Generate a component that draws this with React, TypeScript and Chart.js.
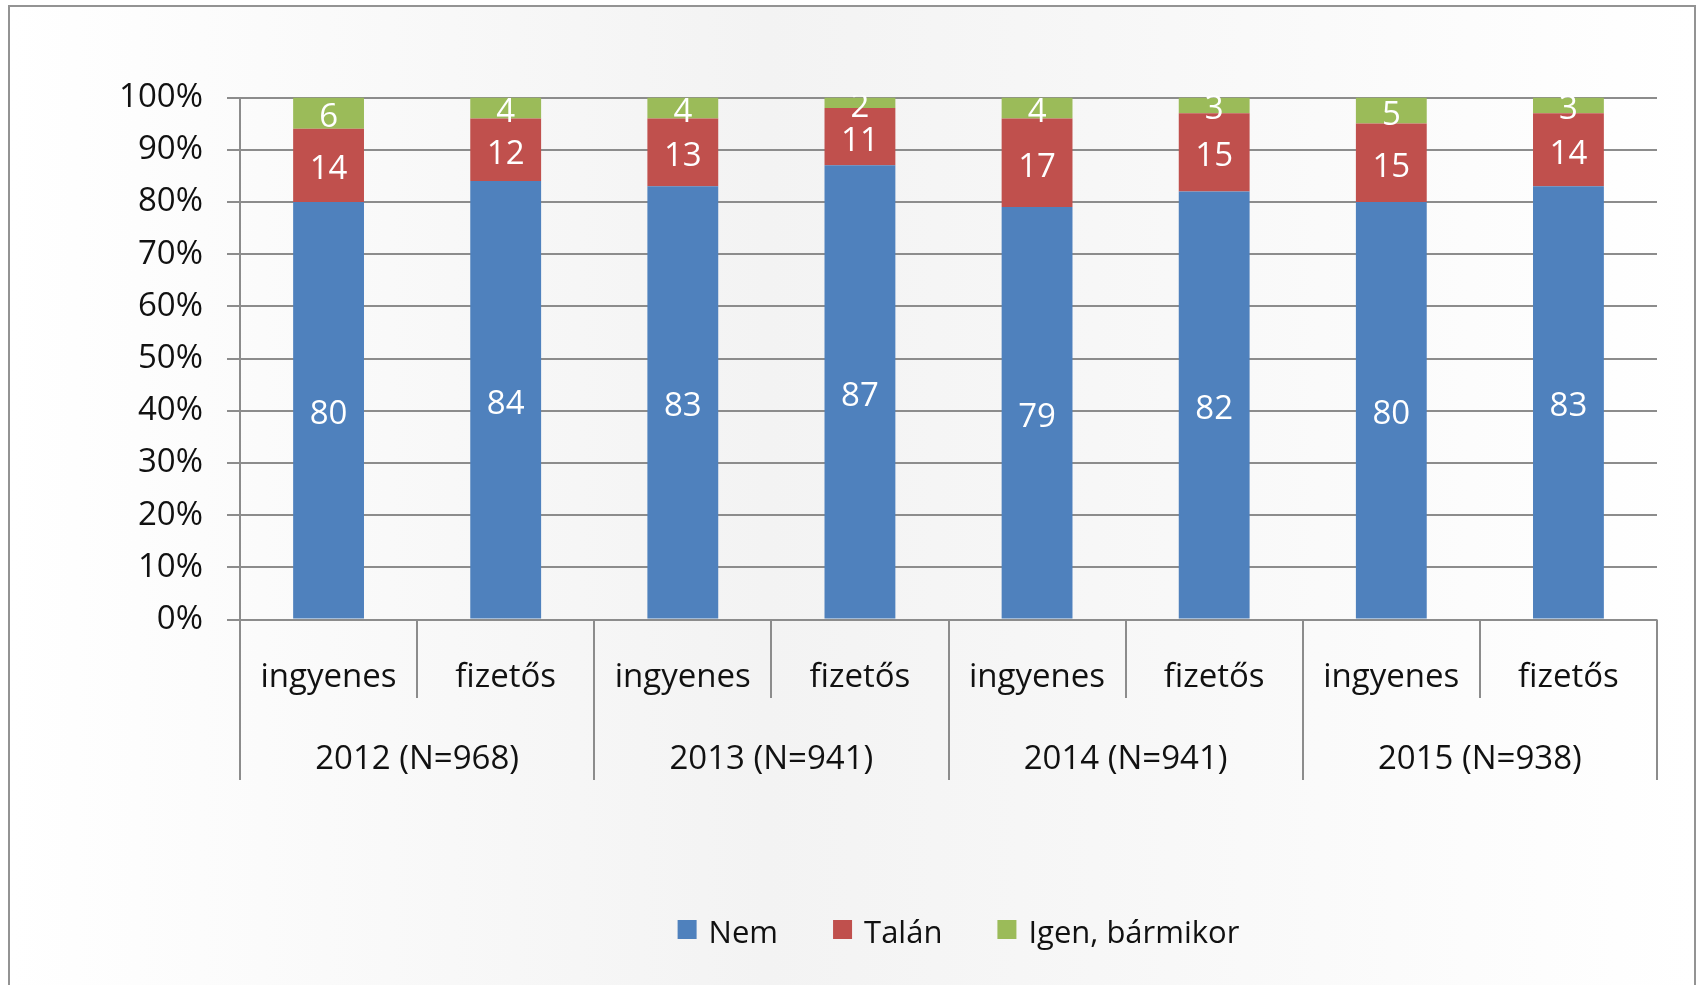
import React, { useEffect, useRef } from "react";
import { Chart, registerables } from "chart.js";

Chart.register(...registerables);

const subCategories = ["ingyenes", "fizetős", "ingyenes", "fizetős", "ingyenes", "fizetős", "ingyenes", "fizetős"];
const groupLabels = ["2012 (N=968)", "2013 (N=941)", "2014 (N=941)", "2015 (N=938)"];
const nemValues = [80, 84, 83, 87, 79, 82, 80, 83];
const talanValues = [14, 12, 13, 11, 17, 15, 15, 14];
const igenValues = [6, 4, 4, 2, 4, 3, 5, 3];
const seriesNames = ["Nem", "Talán", "Igen, bármikor"];
const seriesColors = ["#4F81BD", "#C0504D", "#9BBB59"];

const FONT = "'Open Sans', 'DejaVu Sans', sans-serif";
const TEXT = "#111111";
const LINE = "#8c8c8c";

const customPlugin = {
  id: "customDraw",
  afterDatasetsDraw(chart: any) {
    const { ctx, chartArea } = chart;
    ctx.save();
    ctx.beginPath();
    ctx.rect(chartArea.left, chartArea.top - 2, chartArea.right - chartArea.left, chartArea.bottom - chartArea.top + 2);
    ctx.clip();
    ctx.font = `33px ${FONT}`;
    ctx.fillStyle = "#ffffff";
    ctx.textAlign = "center";
    ctx.textBaseline = "alphabetic";
    chart.data.datasets.forEach((ds: any, di: number) => {
      const meta = chart.getDatasetMeta(di);
      meta.data.forEach((bar: any, i: number) => {
        const v = ds.data[i];
        const cy = (bar.y + bar.base) / 2;
        ctx.fillText(String(v), bar.x, cy + 14);
      });
    });
    ctx.restore();
  },
  afterDraw(chart: any) {
    const { ctx, chartArea, scales } = chart;
    const xs = scales.x;
    const n = chart.data.labels.length;
    const half = (xs.getPixelForValue(1) - xs.getPixelForValue(0)) / 2;
    const bottom = chartArea.bottom;
    ctx.save();
    // separators
    ctx.strokeStyle = LINE;
    ctx.lineWidth = 2;
    for (let i = 0; i <= n; i++) {
      const x = Math.round(i < n ? xs.getPixelForValue(i) - half : xs.getPixelForValue(n - 1) + half);
      const len = i % 2 === 0 ? 160.5 : 78.5;
      ctx.beginPath();
      ctx.moveTo(x, bottom);
      ctx.lineTo(x, bottom + len);
      ctx.stroke();
    }
    // sub labels
    ctx.fillStyle = TEXT;
    ctx.font = `33px ${FONT}`;
    ctx.textAlign = "center";
    ctx.textBaseline = "alphabetic";
    chart.data.labels.forEach((lab: string, i: number) => {
      ctx.fillText(lab, xs.getPixelForValue(i), bottom + 67.5);
    });
    groupLabels.forEach((g, gi) => {
      const cx = (xs.getPixelForValue(gi * 2) + xs.getPixelForValue(gi * 2 + 1)) / 2;
      ctx.fillText(g, cx, bottom + 149.5);
    });
    // legend
    ctx.font = `31px ${FONT}`;
    const box = 19;
    const gap = 12;
    const spacing = 55;
    const widths = chart.data.datasets.map((ds: any) => box + gap + ctx.measureText(ds.label).width);
    const total = widths.reduce((a: number, b: number) => a + b, 0) + spacing * (widths.length - 1);
    const centerX = (chartArea.left + chartArea.right) / 2 + 10;
    let x = centerX - total / 2;
    const textBase = 943;
    ctx.textAlign = "left";
    chart.data.datasets.forEach((ds: any, i: number) => {
      ctx.fillStyle = ds.backgroundColor;
      ctx.fillRect(x, textBase - 23, box, box);
      ctx.fillStyle = TEXT;
      ctx.fillText(ds.label, x + box + gap, textBase);
      x += widths[i] + spacing;
    });
    ctx.restore();
  },
};

export default function App() {
  const canvasRef = useRef<HTMLCanvasElement | null>(null);

  useEffect(() => {
    if (!canvasRef.current) return;
    const seriesData = [nemValues, talanValues, igenValues];
    const chart = new Chart(canvasRef.current, {
      type: "bar",
      data: {
        labels: subCategories,
        datasets: seriesNames.map((name, i) => ({
          label: name,
          data: seriesData[i],
          backgroundColor: seriesColors[i],
          borderWidth: 0,
          stack: "s",
          barPercentage: 0.8,
          categoryPercentage: 0.5,
        })),
      },
      options: {
        responsive: false,
        animation: false,
        devicePixelRatio: 1,
        layout: { padding: { left: 0, top: 97.5, right: 41, bottom: 0 } },
        plugins: {
          legend: { display: false },
          tooltip: { enabled: false },
        },
        scales: {
          x: {
            stacked: true,
            offset: true,
            grid: { display: false },
            border: { display: false },
            ticks: { display: false },
            afterFit: (s: any) => {
              s.height = 985 - 619.5;
            },
          },
          y: {
            stacked: true,
            min: 0,
            max: 100,
            ticks: {
              stepSize: 10,
              callback: (v: any) => v + "%",
              font: { family: FONT, size: 33 },
              color: TEXT,
              padding: 24,
            },
            grid: { color: LINE, lineWidth: 2, tickLength: 13, drawTicks: true },
            border: { display: true, color: LINE, width: 2 },
            afterFit: (s: any) => {
              s.width = 240;
            },
          },
        },
      },
      plugins: [customPlugin],
    });
    return () => chart.destroy();
  }, []);

  return (
    <div style={{ position: "fixed", left: 0, top: 0, width: 1698, height: 985, background: "#ffffff", overflow: "hidden" }}>
      <div
        style={{
          position: "absolute",
          left: 8,
          top: 5,
          width: 1688,
          height: 1100,
          boxSizing: "border-box",
          border: "2px solid #939393",
          background: "linear-gradient(to right, #ffffff 0%, #f3f3f3 45%, #f6f6f6 60%, #ffffff 100%)",
        }}
      />
      <canvas ref={canvasRef} width={1698} height={985} style={{ position: "absolute", left: 0, top: 0 }} />
    </div>
  );
}
